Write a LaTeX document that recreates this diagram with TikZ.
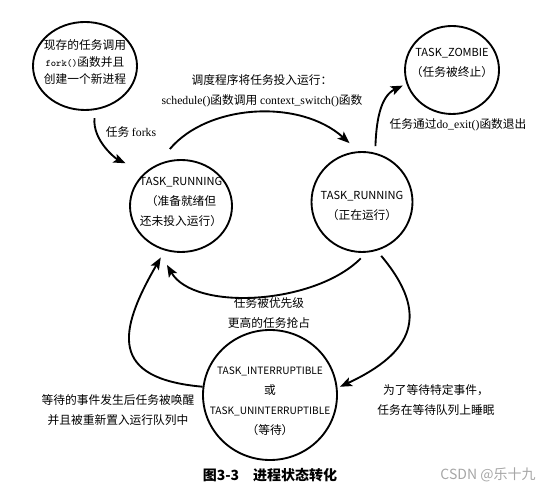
\documentclass[tikz,border=0pt]{standalone}
\usepackage{fontspec}
\setmainfont{Noto Sans CJK SC}
\newfontfamily\lat{Liberation Serif}
\usetikzlibrary{shapes.geometric}
\usetikzlibrary{arrows.meta}

\newcommand{\taskname}[1]{{\fontsize{8.3}{15}\selectfont #1}}
\newcommand{\waitname}[1]{{\fontsize{7.6}{15}\selectfont #1}}

\begin{document}
\begin{tikzpicture}[x=0.75pt,y=0.75pt,
    state/.style={ellipse,draw,line width=1.4pt,inner sep=0pt},
    trans/.style={-{Stealth[length=9pt,width=7pt,inset=2pt]},line width=1.4pt},
    txt/.style={align=center,inner sep=0pt,font=\fontsize{8.8}{15}\selectfont}]

\useasboundingbox (0,0) rectangle (555,498);

%---------------------------------------------------------------
\node (fork) at (85,432) [state,minimum width=78pt,minimum height=66pt,label={[txt,yshift=3pt,font=\fontsize{8.8}{12.75}\selectfont]center:现存的任务调用\\{\ttfamily\fontsize{7.5}{12.75}\selectfont fork()}函数并且\\创建一个新进程}] {};
\node (zombie) at (452,428) [state,minimum width=70.5pt,minimum height=66pt,label={[txt,yshift=5pt]center:\taskname{TASK\_ZOMBIE}\\（任务被终止）}] {};
\node (ready) at (181,292) [state,minimum width=76.5pt,minimum height=69pt,label={[txt,yshift=3pt]center:\taskname{TASK\_RUNNING}\\（准备就绪但\\还未投入运行）}] {};
\node (running) at (362,296) [state,minimum width=75.75pt,minimum height=75pt,label={[txt,yshift=-3pt]center:\taskname{TASK\_RUNNING}\\（正在运行）}] {};
\node (wait) at (270,103) [state,minimum width=100.5pt,minimum height=97.5pt,label={[txt,yshift=-5pt]center:\waitname{TASK\_INTERRUPTIBLE}\\或\\\waitname{TASK\_UNINTERRUPTIBLE}\\（等待）}] {};

%---------------------------------------------------------------
\path (fork.-77) edge[trans,out=-95,in=155,shorten <=6pt,shorten >=16pt] (ready.137);
\path (ready.120) edge[trans,out=50,in=138,shorten <=15pt,shorten >=9pt] (running.94);
\path (running.75) edge[trans,out=88,in=205,shorten <=5pt,shorten >=3pt] (zombie.197);
\path (running.-85) edge[trans,out=-135,in=-60,looseness=0.9,shorten <=6pt,shorten >=15pt] (ready.-120);
\path (running.-73) edge[trans,out=-50,in=25,looseness=1.5,shorten <=5pt,shorten >=2pt] (wait.6);
\path (wait.173) edge[trans,out=175,in=-120,looseness=1.7,shorten >=6pt] (ready.-110);

%---------------------------------------------------------------
\node (schedlbl) at (262,407) [txt] {调度程序将任务投入运行：\\{\lat schedule()}函数调用 {\lat context\_switch()}函数};
\node (forklbl) at (131,366) [txt] {任务 {\lat forks}};
\node (exitlbl) at (458,373) [txt] {任务通过{\lat do\_exit()}函数退出};
\node (preemptlbl) at (269,185) [txt] {任务被优先级\\更高的任务抢占};
\node (wakelbl) at (118,88) [txt] {等待的事件发生后任务被唤醒\\并且被重新置入运行队列中};
\node (sleeplbl) at (436,98) [txt] {为了等待特定事件，\\任务在等待队列上睡眠};

%---------------------------------------------------------------
\node (caption) at (270,23) [font=\fontsize{10.5}{12}\selectfont\bfseries] {图3-3\quad 进程状态转化};
\node (mark) at (488,23) [text=gray!70,font=\fontsize{10.5}{12}\selectfont] {CSDN @乐十九};

\end{tikzpicture}
\end{document}
